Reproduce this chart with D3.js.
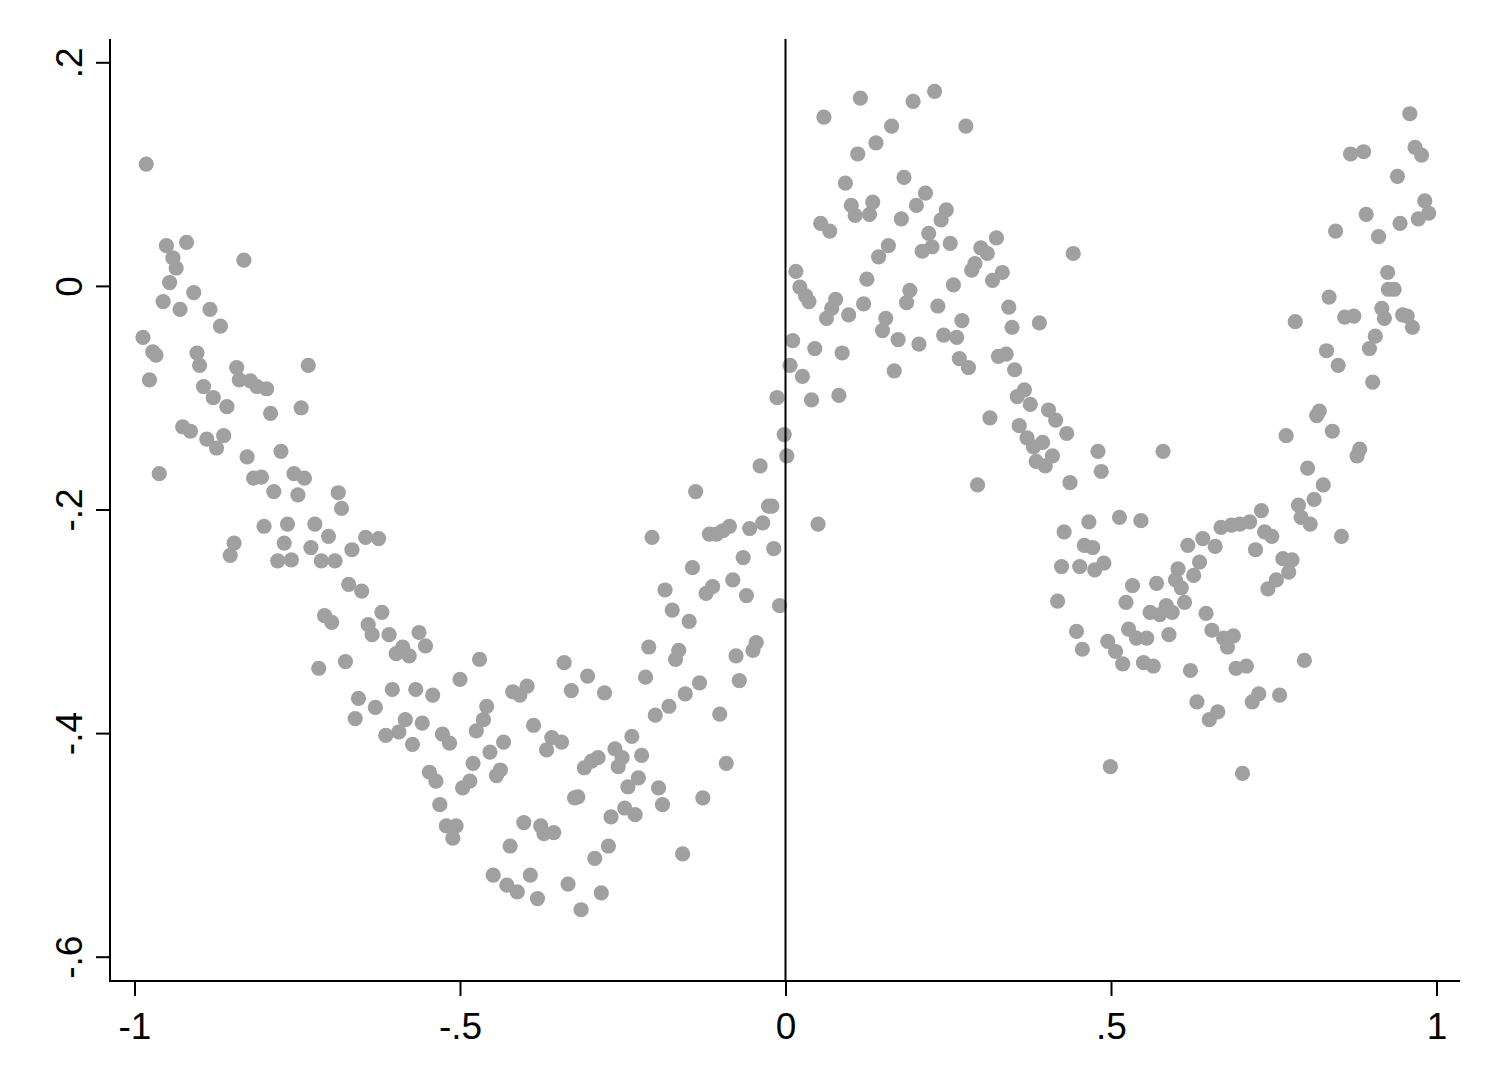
<!DOCTYPE html>
<html><head><meta charset="utf-8">
<script src="https://cdn.jsdelivr.net/npm/d3@7/dist/d3.min.js"></script>
<style>body{margin:0;background:#fff}svg{display:block}</style>
</head><body><svg id="c" width="1500" height="1092"></svg>
<script>
// x < 0 part of the cloud
const xNeg=[-0.982,-0.951,-0.920,-0.941,-0.936,-0.832,-0.946,-0.909,-0.956,-0.930,
-0.884,-0.868,-0.987,-0.972,-0.967,-0.904,-0.900,-0.977,-0.843,-0.839,
-0.822,-0.812,-0.797,-0.733,-0.894,-0.879,-0.858,-0.791,-0.744,-0.926,
-0.914,-0.889,-0.863,-0.874,-0.827,-0.775,-0.962,-0.817,-0.805,-0.755,
-0.739,-0.786,-0.749,-0.687,-0.682,-0.801,-0.765,-0.723,-0.702,-0.770,
-0.729,-0.847,-0.853,-0.780,-0.759,-0.713,-0.692,-0.666,-0.645,-0.625,
-0.671,-0.651,-0.708,-0.697,-0.620,-0.641,-0.635,-0.609,-0.563,-0.553,
-0.598,-0.588,-0.578,-0.717,-0.676,-0.470,-0.500,-0.604,-0.568,-0.542,
-0.656,-0.630,-0.661,-0.584,-0.558,-0.594,-0.614,-0.573,-0.527,-0.516,
-0.459,-0.464,-0.475,-0.419,-0.408,-0.397,-0.387,-0.359,-0.344,-0.367,
-0.454,-0.433,-0.480,-0.444,-0.438,-0.547,-0.537,-0.496,-0.485,-0.531,
-0.521,-0.506,-0.511,-0.402,-0.376,-0.371,-0.356,-0.423,-0.449,-0.428,
-0.412,-0.392,-0.381,
-0.013,-0.002,0.002,-0.039,-0.138,-0.026,-0.021,-0.086,-0.096,-0.106,
-0.117,-0.055,-0.035,-0.205,-0.018,-0.065,-0.143,-0.081,-0.112,-0.122,
-0.060,-0.185,-0.009,-0.174,-0.148,-0.045,-0.050,-0.076,-0.210,-0.164,
-0.169,-0.071,-0.340,-0.304,-0.329,-0.278,-0.215,-0.132,-0.154,-0.179,
-0.200,-0.101,-0.236,-0.262,-0.251,-0.257,-0.288,-0.298,-0.309,-0.221,
-0.091,-0.226,-0.242,-0.195,-0.189,-0.127,-0.324,-0.319,-0.268,-0.247,
-0.231,-0.272,-0.293,-0.158,-0.334,-0.283,-0.314];
const yNeg=[0.109,0.036,0.039,0.025,0.016,0.023,0.003,-0.006,-0.014,-0.021,
-0.021,-0.036,-0.046,-0.059,-0.062,-0.060,-0.071,-0.084,-0.073,-0.084,
-0.085,-0.090,-0.092,-0.071,-0.090,-0.100,-0.108,-0.114,-0.109,-0.126,
-0.130,-0.137,-0.134,-0.145,-0.153,-0.148,-0.168,-0.172,-0.171,-0.168,
-0.172,-0.184,-0.187,-0.185,-0.199,-0.215,-0.213,-0.213,-0.224,-0.230,
-0.234,-0.230,-0.241,-0.246,-0.245,-0.246,-0.246,-0.236,-0.225,-0.226,
-0.267,-0.273,-0.295,-0.301,-0.292,-0.303,-0.312,-0.312,-0.310,-0.322,
-0.329,-0.323,-0.331,-0.342,-0.336,-0.334,-0.352,-0.361,-0.361,-0.366,
-0.369,-0.377,-0.387,-0.388,-0.391,-0.399,-0.402,-0.410,-0.401,-0.409,
-0.376,-0.388,-0.398,-0.363,-0.366,-0.358,-0.393,-0.404,-0.408,-0.415,
-0.417,-0.408,-0.427,-0.438,-0.433,-0.435,-0.443,-0.449,-0.443,-0.464,
-0.483,-0.483,-0.494,-0.480,-0.483,-0.490,-0.489,-0.501,-0.527,-0.536,
-0.542,-0.527,-0.548,
-0.100,-0.133,-0.152,-0.161,-0.184,-0.197,-0.197,-0.215,-0.219,-0.222,
-0.222,-0.217,-0.212,-0.225,-0.235,-0.243,-0.252,-0.263,-0.269,-0.275,
-0.277,-0.272,-0.286,-0.290,-0.300,-0.319,-0.326,-0.331,-0.323,-0.326,
-0.334,-0.353,-0.337,-0.349,-0.362,-0.364,-0.350,-0.355,-0.365,-0.376,
-0.384,-0.383,-0.403,-0.414,-0.422,-0.430,-0.422,-0.425,-0.431,-0.420,
-0.427,-0.440,-0.448,-0.449,-0.464,-0.458,-0.458,-0.457,-0.475,-0.467,
-0.473,-0.501,-0.512,-0.508,-0.535,-0.543,-0.558];
// x > 0 part of the cloud
const xPos=[0.229,0.115,0.196,0.059,0.277,0.163,0.139,0.111,0.182,0.092,
0.215,0.101,0.134,0.107,0.129,0.201,0.247,0.239,0.178,0.054,
0.068,0.220,0.324,0.210,0.225,0.253,0.158,0.143,0.300,0.310,
0.291,0.286,0.333,0.318,0.016,0.125,0.022,0.031,0.036,0.077,
0.071,0.063,0.097,0.120,0.191,0.186,0.258,0.234,0.343,0.154,
0.149,0.271,0.348,0.173,0.205,0.243,0.263,0.011,0.045,0.087,
0.267,0.281,0.327,0.339,0.352,0.007,0.026,0.167,0.040,0.082,
0.356,0.314,0.359,0.295,0.050,
0.442,0.390,0.367,0.376,0.404,0.415,0.432,0.371,0.395,0.381,
0.410,0.385,0.399,0.480,0.580,0.485,0.437,0.513,0.546,0.466,
0.428,0.459,0.472,0.424,0.452,0.489,0.475,
0.418,0.533,0.523,0.570,0.618,0.641,0.660,0.669,0.685,0.698,
0.713,0.731,0.736,0.747,0.722,0.764,0.754,0.741,0.636,0.627,
0.603,0.599,0.608,0.613,0.585,0.575,0.560,0.594,0.646,0.655,
0.673,0.688,0.679,0.527,0.539,0.555,0.447,0.456,0.495,0.507,
0.518,0.589,0.550,0.565,0.622,0.692,0.708,0.632,0.651,0.664,
0.717,0.727,0.759,0.499,0.702,0.769,
0.778,0.773,0.820,0.816,0.840,0.882,0.878,0.802,0.826,0.812,
0.788,0.792,0.806,0.854,0.797,
0.959,0.967,0.977,0.868,0.888,0.940,0.982,0.988,0.972,0.944,
0.892,0.845,0.911,0.925,0.926,0.935,0.835,0.783,0.859,0.873,
0.916,0.920,0.948,0.955,0.963,0.906,0.897,0.831,0.849,0.902];
const yPos=[0.174,0.168,0.165,0.151,0.143,0.143,0.128,0.118,0.097,0.092,
0.083,0.072,0.075,0.063,0.064,0.072,0.068,0.059,0.060,0.056,
0.049,0.047,0.043,0.031,0.035,0.038,0.036,0.026,0.034,0.029,
0.020,0.014,0.012,0.005,0.013,0.006,-0.001,-0.009,-0.014,-0.012,
-0.020,-0.029,-0.026,-0.016,-0.004,-0.015,0.001,-0.018,-0.019,-0.029,
-0.040,-0.031,-0.037,-0.048,-0.052,-0.044,-0.046,-0.049,-0.056,-0.060,
-0.065,-0.073,-0.063,-0.061,-0.075,-0.071,-0.081,-0.076,-0.102,-0.098,
-0.099,-0.118,-0.125,-0.178,-0.213,
0.029,-0.033,-0.093,-0.106,-0.111,-0.120,-0.132,-0.136,-0.140,-0.144,
-0.152,-0.157,-0.161,-0.148,-0.148,-0.166,-0.176,-0.207,-0.210,-0.211,
-0.220,-0.232,-0.234,-0.251,-0.251,-0.248,-0.254,
-0.282,-0.268,-0.283,-0.266,-0.232,-0.226,-0.233,-0.216,-0.214,-0.213,
-0.211,-0.201,-0.220,-0.224,-0.236,-0.244,-0.263,-0.271,-0.247,-0.259,
-0.253,-0.263,-0.270,-0.283,-0.286,-0.294,-0.292,-0.292,-0.293,-0.308,
-0.315,-0.313,-0.323,-0.307,-0.315,-0.315,-0.309,-0.325,-0.318,-0.327,
-0.338,-0.312,-0.337,-0.340,-0.344,-0.342,-0.340,-0.372,-0.388,-0.381,
-0.372,-0.365,-0.366,-0.430,-0.436,-0.134,
-0.245,-0.256,-0.112,-0.116,-0.130,-0.146,-0.152,-0.163,-0.178,-0.191,
-0.196,-0.207,-0.213,-0.224,-0.335,
0.154,0.124,0.117,0.118,0.120,0.098,0.076,0.065,0.060,0.056,
0.064,0.049,0.044,0.012,-0.003,-0.003,-0.010,-0.032,-0.028,-0.027,
-0.020,-0.029,-0.026,-0.027,-0.037,-0.045,-0.056,-0.058,-0.071,-0.086];

const xTicks=[-1,-0.5,0,0.5,1];
const xTickLabels=["-1","-.5","0",".5","1"];
const yTicks=[0.2,0,-0.2,-0.4,-0.6];
const yTickLabels=[".2","0","-.2","-.4","-.6"];
const refLineX=[0];

const W=1500,H=1092;
const plotL=110,plotR=1460,plotT=39,plotB=981;
const FONT='"Liberation Sans", Arial, sans-serif';

const svg=d3.select("#c");
svg.append("rect").attr("width",W).attr("height",H).attr("fill","#fff");

const x=d3.scaleLinear().domain([-1,1]).range([134.5,1436.5]);
const y=d3.scaleLinear().domain([-0.6,0.2]).range([956.7,62.3]);

const pts=xNeg.map((v,i)=>({x:v,y:yNeg[i]})).concat(xPos.map((v,i)=>({x:v,y:yPos[i]})));

svg.append("g").selectAll("circle").data(pts).join("circle")
  .attr("cx",d=>x(d.x)).attr("cy",d=>y(d.y)).attr("r",7.6)
  .attr("fill","#a0a0a0");

// reference line at x=0
svg.append("g").selectAll("line").data(refLineX).join("line")
  .attr("x1",d=>x(d)).attr("x2",d=>x(d)).attr("y1",plotT).attr("y2",plotB)
  .attr("stroke","#000").attr("stroke-width",2);

// axes
const yAxis=d3.axisLeft(y).tickValues(yTicks).tickFormat((d,i)=>yTickLabels[i]).tickSize(14);
const gy=svg.append("g").attr("transform",`translate(${plotL},0)`).call(yAxis);
gy.select(".domain").remove();
gy.selectAll(".tick line").attr("stroke","#000").attr("stroke-width",2);
gy.selectAll(".tick text")
  .attr("x",0).attr("dy",null).attr("y",0)
  .attr("transform","translate(-28,0) rotate(-90)")
  .attr("text-anchor","middle")
  .style("font-family",FONT).style("font-size","37px").attr("fill","#000");

const xAxis=d3.axisBottom(x).tickValues(xTicks).tickFormat((d,i)=>xTickLabels[i]).tickSize(15);
const gx=svg.append("g").attr("transform",`translate(0,${plotB})`).call(xAxis);
gx.select(".domain").remove();
gx.selectAll(".tick line").attr("stroke","#000").attr("stroke-width",2);
gx.selectAll(".tick text")
  .attr("y",58).attr("dy",null)
  .attr("text-anchor","middle")
  .style("font-family",FONT).style("font-size","37px").attr("fill","#000");

// axis lines
svg.append("line").attr("x1",plotL).attr("x2",plotL).attr("y1",plotT).attr("y2",plotB+1)
  .attr("stroke","#000").attr("stroke-width",2);
svg.append("line").attr("x1",plotL-1).attr("x2",plotR).attr("y1",plotB).attr("y2",plotB)
  .attr("stroke","#000").attr("stroke-width",2);
</script></body></html>
